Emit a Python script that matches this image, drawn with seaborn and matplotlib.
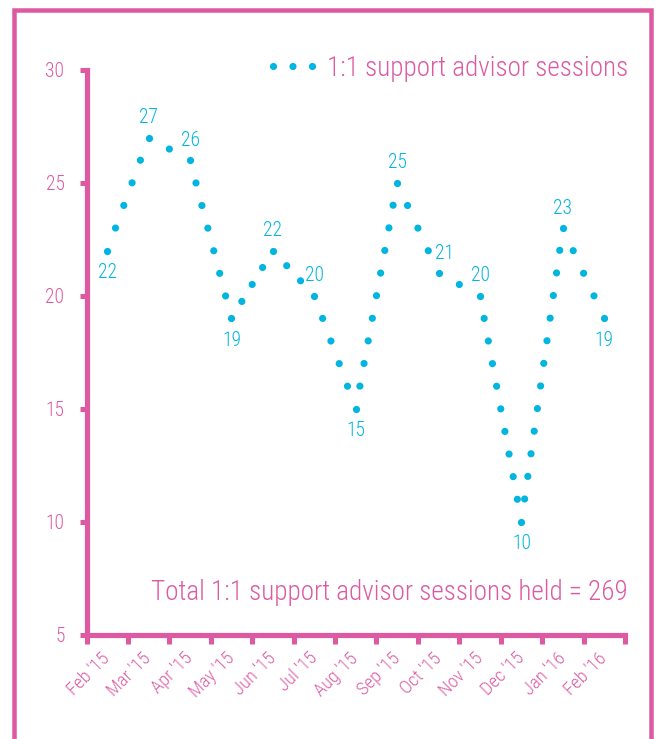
import numpy as np
import pandas as pd
import matplotlib
matplotlib.use("Agg")
import matplotlib.pyplot as plt
from matplotlib import font_manager
from matplotlib.lines import Line2D
from matplotlib.patches import Rectangle
from matplotlib.transforms import ScaledTranslation
import seaborn as sns

# Monthly 1:1 support advisor sessions
months = ["Feb '15", "Mar '15", "Apr '15", "May '15", "Jun '15", "Jul '15",
          "Aug '15", "Sep '15", "Oct '15", "Nov '15", "Dec '15", "Jan '16", "Feb '16"]
sessions = [22, 27, 26, 19, 22, 20, 15, 25, 21, 20, 10, 23, 19]
y_ticks = [5, 10, 15, 20, 25, 30]
series_label = "1:1 support advisor sessions"
total_template = "Total 1:1 support advisor sessions held = {}"

# sideways nudge (px) for value labels that would touch the line
label_nudge_px = {"Oct '15": 6}

PINK = "#DD5AA3"
CYAN = "#00B5DF"
W, H, DPI = 657, 739, 100
PT = 72 / DPI  # points per pixel

sns.set_theme(style="white")

# pick the narrowest installed sans family, light weight when present
fonts = font_manager.fontManager.ttflist
names = {f.name for f in fonts}
family = next((n for n in ["Roboto Condensed", "Liberation Sans Narrow",
                           "Open Sans Condensed", "Roboto", "Lato"]
               if n in names), "DejaVu Sans")
has_light = any(f.name == family and f.weight in (300, "light") for f in fonts)
WEIGHT = "light" if has_light else "normal"
plt.rcParams["font.family"] = [family, "DejaVu Sans"]
plt.rcParams["font.weight"] = WEIGHT
plt.rcParams["lines.scale_dashes"] = False

fig = plt.figure(figsize=(W / DPI, H / DPI), dpi=DPI)
fig.patch.set_facecolor("white")
renderer = fig.canvas.get_renderer()

# size the large captions so the total line spans its 476 px
probe = fig.text(0, 0, total_template.format(sum(sessions)), fontsize=20)
fs_big = 20 * 476 / probe.get_window_extent(renderer).width
probe.remove()
fs_small = fs_big * 0.72
fs_tick_x = fs_big * 0.68

# outer frame, open past the bottom edge
fig.patches.append(Rectangle((14 / W, -0.05), (651 - 14) / W, 1.05 - 10 / H,
                             transform=fig.transFigure, fill=False,
                             edgecolor=PINK, linewidth=4.5 * PT))

ax = fig.add_axes([86.5 / W, 104.5 / H, (625 - 86.5) / W, (634.5 - 70) / H])
ax.set_facecolor("white")

df = pd.DataFrame({"month": months,
                   "pos": np.arange(len(months)),
                   "sessions": sessions})

ax.set_xlim(-0.5, len(months) - 0.5)
ax.set_ylim(y_ticks[0], y_ticks[-1])

DOT_PX = 7.2
STEP_PX = 22.5
dot_lw = DOT_PX * PT

# dotted segments between months; spacing fitted per segment so the
# in-between dots are even, end dots left to the month markers below
for i in range(len(df) - 1):
    seg = df.iloc[i:i + 2]
    p0, p1 = ax.transData.transform(seg[["pos", "sessions"]].to_numpy(dtype=float))
    length = float(np.hypot(*(p1 - p0)))
    n = max(1, int(round(length / STEP_PX)))
    gap_pt = length / n * PT + 0.02
    sns.lineplot(data=seg, x="pos", y="sessions", ax=ax, color=CYAN,
                 linewidth=dot_lw,
                 linestyle=(0.003, (0.001, gap_pt - 0.001)),
                 dash_capstyle="round", sort=False, estimator=None,
                 legend=False)

sns.scatterplot(data=df, x="pos", y="sessions", ax=ax, color=CYAN,
                s=dot_lw ** 2, linewidth=0, legend=False, zorder=3)

# value labels: below local minima, above everything else
vals = df["sessions"].to_numpy()
for i, v in enumerate(vals):
    nb = [vals[j] for j in (i - 1, i + 1) if 0 <= j < len(vals)]
    below = all(v < x for x in nb)
    dx = label_nudge_px.get(df["month"][i], 0) * PT
    ax.annotate(str(v), (df["pos"][i], v),
                xytext=(dx, -22 * PT if below else 20 * PT),
                textcoords="offset points", ha="center", va="center",
                color=CYAN, fontsize=fs_small)

# axes styling
for side in ("top", "right"):
    ax.spines[side].set_visible(False)
for side in ("left", "bottom"):
    ax.spines[side].set_color(PINK)
    ax.spines[side].set_linewidth(5.2 * PT)

ax.set_yticks(y_ticks)
ax.tick_params(axis="y", length=7 * PT, width=5 * PT, color=PINK,
               labelcolor=PINK, labelsize=fs_small, pad=15 * PT, left=True)

ax.set_xticks(df["pos"])
ax.set_xticklabels(df["month"], rotation=45, ha="right", va="center",
                   rotation_mode="anchor")
shift = ScaledTranslation(6 / DPI, 0, fig.dpi_scale_trans)
for lbl in ax.get_xticklabels():
    lbl.set_transform(lbl.get_transform() + shift)
ax.set_xticks(np.arange(-0.5, len(months)), minor=True)
ax.tick_params(axis="x", which="major", length=0, labelcolor=PINK,
               labelsize=fs_tick_x, pad=21 * PT)
ax.tick_params(axis="x", which="minor", length=9 * PT, width=5 * PT,
               color=PINK, bottom=True)
ax.set_xlabel("")
ax.set_ylabel("")
ax.grid(False)

# legend with a three-dot handle
handle = Line2D([], [], color=CYAN, linewidth=dot_lw,
                linestyle=(0, (0.001, 19.5 * PT - 0.001)), dash_capstyle="round")
ax.legend([handle], [series_label], loc="center right",
          bbox_to_anchor=(628 / W, 1 - 68 / H), bbox_transform=fig.transFigure,
          frameon=False, fontsize=fs_big, labelcolor=PINK,
          handlelength=40 * PT / fs_big, handletextpad=14 * PT / fs_big,
          borderaxespad=0, borderpad=0)

fig.text(628 / W, 1 - 593 / H, total_template.format(sum(sessions)),
         ha="right", va="center", color=PINK, fontsize=fs_big)

fig.savefig("out.png", dpi=DPI, facecolor="white")
